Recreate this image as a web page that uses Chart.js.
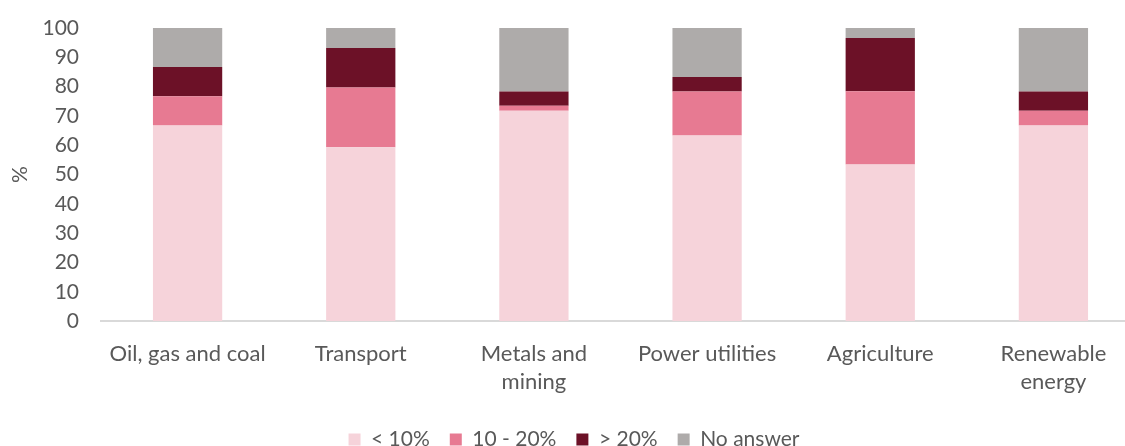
<!DOCTYPE html>
<html>
<head>
<meta charset="utf-8">
<script src="https://cdn.jsdelivr.net/npm/chart.js@4"></script>
<style>
    html, body { margin: 0; padding: 0; background: #fff; overflow: hidden; }
    .wrap { position: relative; width: 1140px; height: 460px; }
</style>
</head>
<body>
<div class="wrap"><canvas id="chartSectors"></canvas></div>
<script>
// Sectores y distribución de respuestas (%)
const sectors = [
    'Oil, gas and coal',
    'Transport',
    ['Metals and', 'mining'],
    'Power utilities',
    'Agriculture',
    ['Renewable', 'energy']
];
const below10 = [66.7, 59.3, 71.8, 63.3, 53.4, 66.7];
const from10to20 = [10.0, 20.4, 1.7, 15.0, 25.0, 5.1];
const above20 = [10.0, 13.5, 4.8, 5.0, 18.2, 6.5];
const noAnswer = [13.3, 6.8, 21.7, 16.7, 3.4, 21.7];
const yTicks = [0, 10, 20, 30, 40, 50, 60, 70, 80, 90, 100];

const FONT = 'Lato, "Open Sans", sans-serif';
const textColor = '#595959';

const ctx = document.getElementById('chartSectors');
new Chart(ctx, {
    type: 'bar',
    data: {
        labels: sectors,
        datasets: [
            { label: '< 10%', data: below10, backgroundColor: '#F6D3DA' },
            { label: '10 - 20%', data: from10to20, backgroundColor: '#E77A92' },
            { label: '> 20%', data: above20, backgroundColor: '#6C1127' },
            { label: 'No answer', data: noAnswer, backgroundColor: '#AEABAA' }
        ]
    },
    options: {
        responsive: true, maintainAspectRatio: false, animation: false,
        barPercentage: 0.4, categoryPercentage: 1,
        layout: { padding: { top: 28, left: 8, right: 0, bottom: 0 } },
        plugins: {
            legend: {
                position: 'bottom',
                labels: { color: textColor, boxWidth: 12, boxHeight: 12, padding: 20, font: { family: FONT, size: 21 } }
            },
            tooltip: { enabled: false }
        },
        scales: {
            x: {
                stacked: true,
                afterFit: s => { s.height -= 6; },
                grid: { display: false, drawTicks: false },
                border: { color: '#D9D9D9', width: 2 },
                ticks: { color: textColor, padding: 19, maxRotation: 0, autoSkip: false, font: { family: FONT, size: 22, lineHeight: 1.27 } }
            },
            y: {
                stacked: true, min: 0, max: 100,
                afterBuildTicks: s => { s.ticks = yTicks.map(v => ({ value: v })); },
                afterFit: s => { s.width = 93; s.paddingTop = 0; },
                grid: { display: false, drawTicks: false },
                border: { display: false },
                title: { display: true, text: '%', color: textColor, padding: 0, font: { family: FONT, size: 21 } },
                ticks: { color: textColor, padding: 22, font: { family: FONT, size: 21 } }
            }
        }
    }
});
</script>
</body>
</html>
